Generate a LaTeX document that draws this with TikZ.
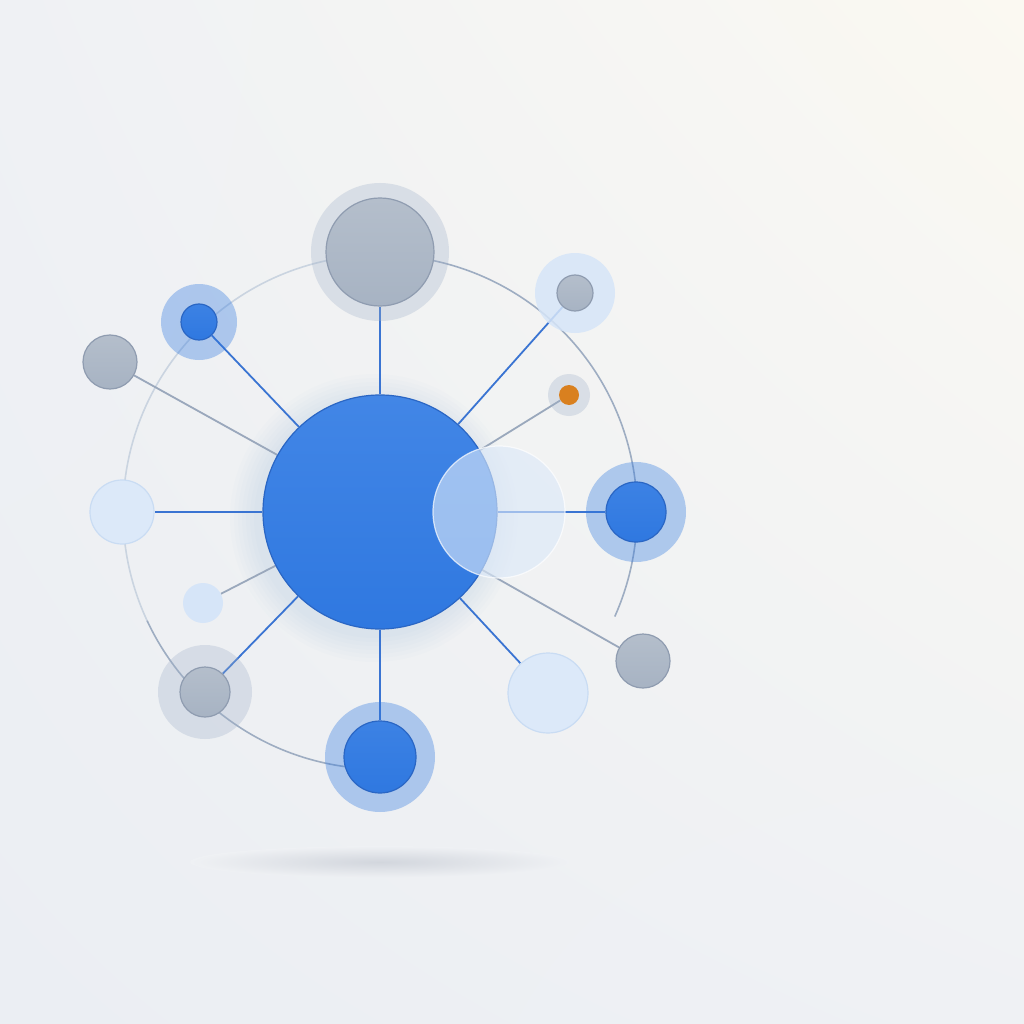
\documentclass[tikz,border=0pt]{standalone}
\usetikzlibrary{positioning,backgrounds,shadings}
\definecolor{hubblue}{HTML}{2F78E0}
\definecolor{hubtop}{HTML}{4286E6}
\definecolor{hubedge}{HTML}{2A66C4}
\definecolor{nodegray}{HTML}{A7B3C3}
\definecolor{graytop}{HTML}{B4BECB}
\definecolor{grayedge}{HTML}{8F9CB0}
\definecolor{paleblue}{HTML}{DCE9F9}
\definecolor{paleedge}{HTML}{C9DCF3}
\definecolor{tintblue}{HTML}{D6E5F8}
\definecolor{linkblue}{HTML}{3A74D2}
\definecolor{linkgray}{HTML}{9AA8BC}
\definecolor{arcdark}{HTML}{9EADC2}
\definecolor{arclight}{HTML}{CAD4E0}
\definecolor{dotorange}{HTML}{D9801F}
\definecolor{bgcool}{HTML}{EBEEF3}
\definecolor{bgmid}{HTML}{EFF1F4}
\definecolor{bgwarm}{HTML}{FBF9F2}
\definecolor{shadowgray}{HTML}{D2D6DD}
\definecolor{haloslate}{HTML}{9FB0C8}
\tikzset{
hub/.style={circle, inner sep=0pt, minimum size=234pt, draw=hubedge, line width=1.2pt, top color=hubtop, bottom color=hubblue},
grayball/.style={circle, inner sep=0pt, draw=grayedge, line width=1.2pt, top color=graytop, bottom color=nodegray},
blueball/.style={circle, inner sep=0pt, draw=hubedge, line width=1.2pt, top color=hubtop!70!hubblue, bottom color=hubblue},
paleball/.style={circle, inner sep=0pt, draw=paleedge, line width=1.2pt, fill=paleblue},
halo/.style={circle, inner sep=0pt, fill=hubblue, fill opacity=0.35},
grayhalo/.style={circle, inner sep=0pt, fill=haloslate, fill opacity=0.3},
tinthalo/.style={circle, inner sep=0pt, fill=tintblue, fill opacity=0.85},
glass/.style={circle, inner sep=0pt, minimum size=132pt, fill=paleblue, fill opacity=0.62, draw=white, draw opacity=0.7, line width=1.2pt},
bluelink/.style={draw=linkblue, line width=1.8pt},
graylink/.style={draw=linkgray, line width=1.8pt},
}
\begin{document}
\begin{tikzpicture}[x=1pt, y=-1pt]
\useasboundingbox (0,0) rectangle (1024,1024);

\begin{scope}[on background layer]
\shade[upper left=bgmid, upper right=bgwarm, lower left=bgcool, lower right=bgmid] (0,0) rectangle (1024,1024);
\shade[inner color=shadowgray, outer color=bgmid] (380,862) ellipse (190pt and 16pt);
\coordinate (ctr) at (380,512);
% orbit
\draw[arcdark, line width=1.6pt] (ctr) ++(-24:257pt) arc[start angle=-24, end angle=95, radius=257pt];
\draw[arclight, line width=1.6pt] (ctr) ++(95:257pt) arc[start angle=95, end angle=205, radius=257pt];
\draw[arcdark, line width=1.6pt] (ctr) ++(205:257pt) arc[start angle=205, end angle=270, radius=257pt];
% soft glow under the hub
\foreach \r in {120,124,...,144}
  \fill[hubblue, opacity=0.012] (374,518) circle (\r pt);
\end{scope}

% halos
\node[grayhalo, minimum size=138pt] (top-h) at (380,252) {};
\node[tinthalo, minimum size=80pt] (tr-h) at (575,293) {};
\node[grayhalo, minimum size=42pt] (dot-h) at (569,395) {};
\node[halo, minimum size=100pt] (rb-h) at (636,512) {};
\node[halo, minimum size=110pt] (bot-h) at (380,757) {};
\node[grayhalo, minimum size=94pt] (blg-h) at (205,692) {};
\node[halo, minimum size=76pt] (tlb-h) at (199,322) {};

% nodes
\node[hub] (hub) at (380,512) {};
\node[grayball, minimum size=108pt] (top) at (380,252) {};
\node[grayball, minimum size=36pt] (tr) at (575,293) {};
\node[circle, inner sep=0pt, minimum size=20pt, fill=dotorange] (dot) at (569,395) {};
\node[blueball, minimum size=60pt] (rb) at (636,512) {};
\node[grayball, minimum size=54pt] (brg) at (643,661) {};
\node[paleball, minimum size=80pt] (brl) at (548,693) {};
\node[blueball, minimum size=72pt] (bot) at (380,757) {};
\node[grayball, minimum size=50pt] (blg) at (205,692) {};
\node[circle, inner sep=0pt, minimum size=40pt, fill=tintblue] (sml) at (203,603) {};
\node[paleball, minimum size=64pt] (lft) at (122,512) {};
\node[grayball, minimum size=54pt] (lg) at (110,362) {};
\node[blueball, minimum size=36pt] (tlb) at (199,322) {};
\node[glass] (lens) at (499,512) {};

\begin{scope}[on background layer]
\draw[bluelink] (hub) -- (top);
\draw[bluelink] (hub) -- (tr);
\draw[graylink] (hub) -- (dot);
\draw[bluelink] (hub) -- (rb);
\draw[graylink] (hub) -- (brg);
\draw[bluelink] (hub) -- (brl);
\draw[bluelink] (hub) -- (bot);
\draw[bluelink] (hub) -- (blg);
\draw[graylink] (hub) -- (sml);
\draw[bluelink] (hub) -- (lft);
\draw[graylink] (hub) -- (lg);
\draw[bluelink] (hub) -- (tlb);
\end{scope}
\end{tikzpicture}
\end{document}
